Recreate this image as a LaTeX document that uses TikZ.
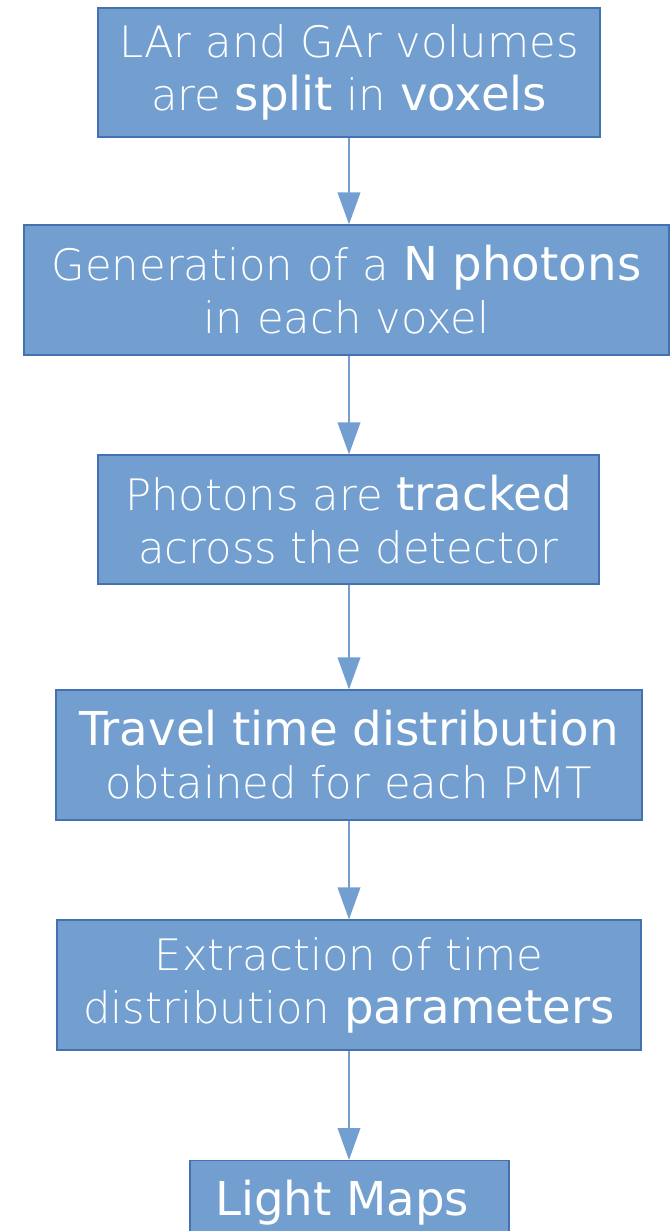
\documentclass[tikz,border=0pt]{standalone}
\usepackage{fontspec}
\setmainfont{DejaVu Sans ExtraLight}
\newfontfamily\heavyfont[Scale=1.077]{DejaVu Sans}
\usetikzlibrary{positioning, arrows.meta}
\definecolor{boxcolor}{RGB}{114,159,207}
\definecolor{boxedgecolor}{RGB}{68,114,176}
\definecolor{arrowcolor}{RGB}{114,159,207}

\begin{document}
\begin{tikzpicture}[x=0.75pt, y=-0.75pt]
  \tikzset{
    stepbox/.style={
      draw=boxedgecolor,
      fill=boxcolor,
      line width=0.9pt,
      text=white,
      align=center,
      inner sep=0pt,
      anchor=center,
      font=\fontsize{32.5}{39.75}\selectfont
    },
    flow/.style={
      draw=arrowcolor,
      line width=1.1pt,
      -{Triangle[width=17pt,length=24pt]}
    }
  }
  \useasboundingbox (0,0) rectangle (669,1231);

  % Process steps
  \node[stepbox, minimum width=376.5pt, minimum height=96.75pt] at (349,72.5) (voxels) {
    LAr and GAr volumes\\ are {\heavyfont split} in {\heavyfont voxels}
  };
  \node[stepbox, minimum width=483.75pt, minimum height=97.5pt] at (346.5,290) (generate) {
    Generation of a {\heavyfont N photons}\\ in each voxel
  };
  \node[stepbox, minimum width=375.75pt, minimum height=96.75pt] at (348.5,519.5) (tracking) {
    Photons are {\heavyfont tracked}\\ across the detector
  };
  \node[stepbox, minimum width=439.5pt, minimum height=97.5pt] at (349,755) (traveltime) {
    {\heavyfont Travel time distribution}\\ obtained for each PMT
  };
  \node[stepbox, minimum width=438pt, minimum height=97.5pt] at (349,985) (extraction) {
    Extraction of time\\ distribution {\heavyfont parameters}
  };
  \node[stepbox, minimum width=239.25pt, anchor=north, text height=41.25pt, text depth=55.5pt,
        font=\heavyfont\fontsize{32.5}{39.75}\selectfont] at (349.5,1160) (lightmaps) {
    Light Maps
  };

  % Connectors
  \draw[flow] (voxels.south) -- (voxels.south |- generate.north);
  \draw[flow] (voxels.south |- generate.south) -- (voxels.south |- tracking.north);
  \draw[flow] (voxels.south |- tracking.south) -- (voxels.south |- traveltime.north);
  \draw[flow] (traveltime.south) -- (traveltime.south |- extraction.north);
  \draw[flow] (extraction.south) -- (extraction.south |- lightmaps.north);
\end{tikzpicture}
\end{document}
